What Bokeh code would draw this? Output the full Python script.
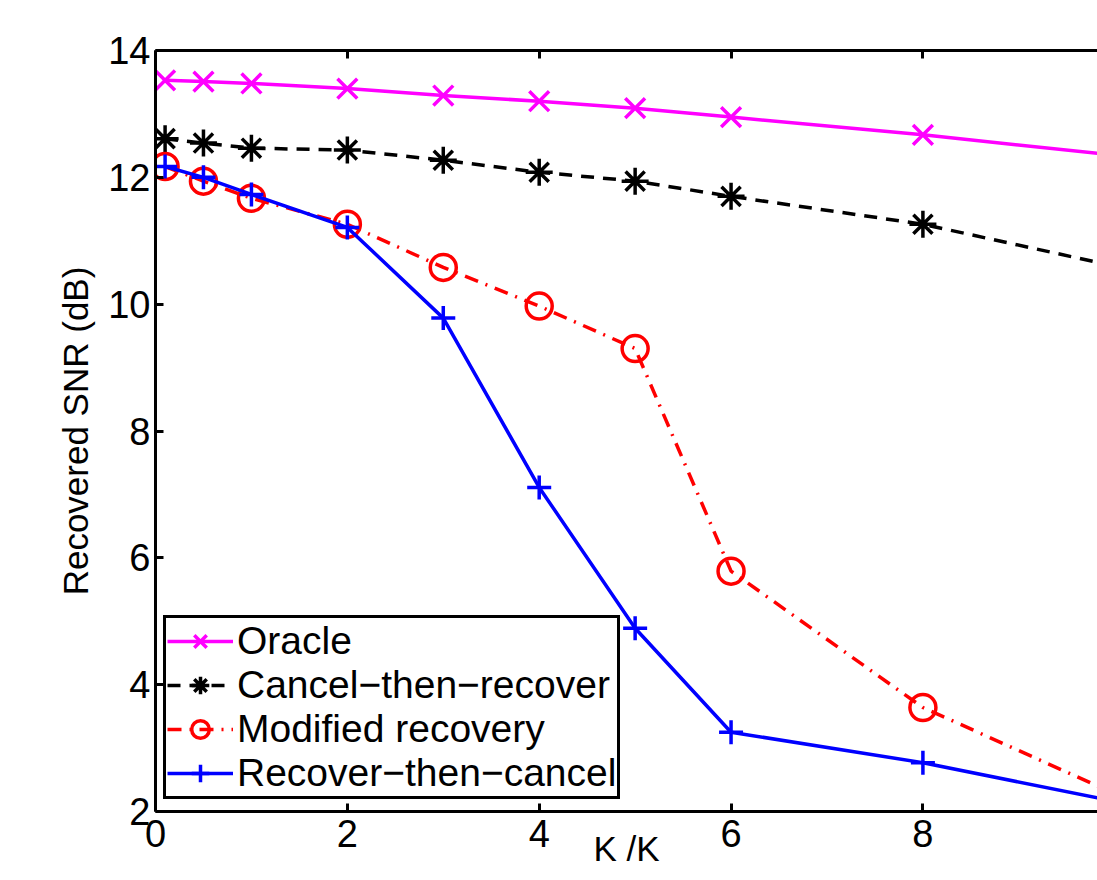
from bokeh.plotting import figure
from bokeh.models import Range1d, LinearAxis, FixedTicker, Legend, LegendItem
from bokeh.embed import file_html
from bokeh.resources import INLINE

# Data
x_vals = [0.1, 0.5, 1, 2, 3, 4, 5, 6, 8, 10]
oracle = [13.53, 13.51, 13.48, 13.40, 13.29, 13.20, 13.09, 12.95, 12.67, 12.35]
cancel_then_recover = [12.61, 12.54, 12.46, 12.43, 12.27, 12.08, 11.94, 11.70, 11.26, 10.60]
modified_recovery = [12.17, 11.94, 11.67, 11.26, 10.58, 9.97, 9.30, 5.79, 3.64, 2.28]
recover_then_cancel = [12.17, 12.00, 11.73, 11.21, 9.78, 7.11, 4.89, 3.25, 2.77, 2.16]

series_names = ["Oracle", "Cancel\u2212then\u2212recover", "Modified recovery", "Recover\u2212then\u2212cancel"]
x_ticks = [0, 2, 4, 6, 8, 10]
y_ticks = [2, 4, 6, 8, 10, 12, 14]
x_label = "K /K"
y_label = "Recovered SNR (dB)"

FONT = "Liberation Sans"

p = figure(width=1097, height=880, x_range=Range1d(0, 9.82), y_range=Range1d(2, 14),
           output_backend="svg", toolbar_location=None,
           min_border_left=155, min_border_right=0, min_border_top=50, min_border_bottom=69,
           background_fill_color="white", border_fill_color="white")
p.outline_line_color = None
p.grid.visible = False

for ax in (p.xaxis[0], p.yaxis[0]):
    ax.axis_line_width = 3
    ax.axis_line_color = "black"
    ax.major_tick_in = 8
    ax.major_tick_out = 0
    ax.major_tick_line_width = 3
    ax.minor_tick_line_color = None
    ax.major_label_text_font = FONT
    ax.major_label_text_font_size = "38px"
    ax.major_label_text_color = "black"
    ax.axis_label_text_font = FONT
    ax.axis_label_text_font_size = "35px"
    ax.axis_label_text_font_style = "normal"
    ax.axis_label_text_color = "black"

p.xaxis[0].ticker = FixedTicker(ticks=x_ticks)
p.yaxis[0].ticker = FixedTicker(ticks=y_ticks)
p.xaxis[0].major_label_standoff = 8
p.yaxis[0].major_label_standoff = 5
p.yaxis[0].axis_label = y_label
p.yaxis[0].axis_label_standoff = 10
p.xaxis[0].axis_label = x_label
p.xaxis[0].axis_label_standoff = -21

top = LinearAxis(ticker=FixedTicker(ticks=x_ticks), axis_line_width=3, major_tick_in=8,
                 major_tick_out=0, major_tick_line_width=3, minor_tick_line_color=None,
                 major_label_overrides={t: "" for t in x_ticks}, major_label_standoff=0)
p.add_layout(top, "above")

lw = 3.5
r1l = p.line(x_vals, oracle, line_color="#FF00FF", line_width=lw)
r1m = p.scatter(x_vals, oracle, marker="x", size=28, line_color="#FF00FF", line_width=lw)

r2l = p.line(x_vals, cancel_then_recover, line_color="black", line_width=lw, line_dash="13 9")
r2m = p.scatter(x_vals, cancel_then_recover, marker="asterisk", size=27, line_color="black", line_width=lw)

r3l = p.line(x_vals, modified_recovery, line_color="#FF0000", line_width=lw, line_dash="14 8 2 8")
r3m = p.scatter(x_vals, modified_recovery, marker="circle", size=26, line_color="#FF0000",
                fill_color=None, line_width=lw)

r4l = p.line(x_vals, recover_then_cancel, line_color="#0000FF", line_width=lw)
r4m = p.scatter(x_vals, recover_then_cancel, marker="cross", size=24, line_color="#0000FF", line_width=lw)

legend = Legend(items=[
    LegendItem(label=series_names[0], renderers=[r1l, r1m]),
    LegendItem(label=series_names[1], renderers=[r2l, r2m]),
    LegendItem(label=series_names[2], renderers=[r3l, r3m]),
    LegendItem(label=series_names[3], renderers=[r4l, r4m]),
], location=(8, 12))
legend.border_line_color = "black"
legend.border_line_alpha = 1
legend.border_line_width = 3
legend.background_fill_color = "white"
legend.background_fill_alpha = 1
legend.label_text_font = FONT
legend.label_text_font_size = "39px"
legend.label_text_color = "black"
legend.glyph_width = 66
legend.glyph_height = 44
legend.label_height = 44
legend.padding = 1
legend.spacing = 0
legend.margin = 0
legend.label_standoff = 4
p.add_layout(legend)

open("out.html", "w").write(file_html(p, INLINE))
